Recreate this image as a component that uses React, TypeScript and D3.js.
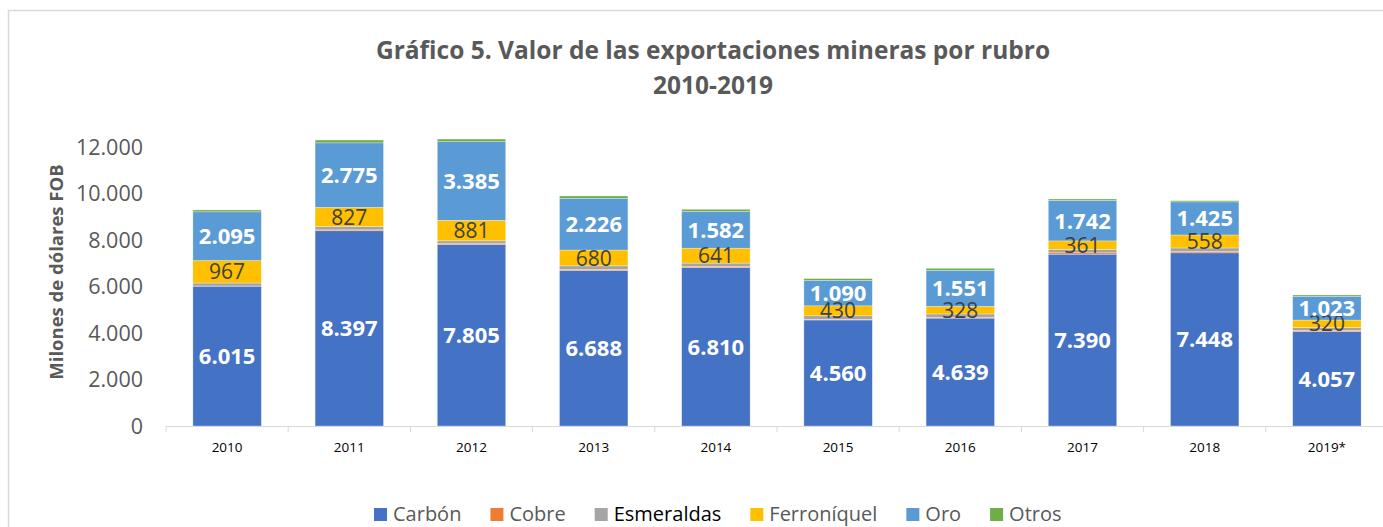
import React, { useEffect, useRef } from 'react'
import * as d3 from 'd3'

// values in millones de dólares FOB
const years = ['2010', '2011', '2012', '2013', '2014', '2015', '2016', '2017', '2018', '2019*']
const carbon = [6015, 8397, 7805, 6688, 6810, 4560, 4639, 7390, 7448, 4057]
const cobre = [5, 40, 40, 50, 47, 30, 40, 60, 60, 50]
const esmeraldas = [130, 140, 120, 150, 150, 150, 140, 150, 150, 130]
const ferroniquel = [967, 827, 881, 680, 641, 430, 328, 361, 558, 320]
const oro = [2095, 2775, 3385, 2226, 1582, 1090, 1551, 1742, 1425, 1023]
const otros = [80, 120, 110, 100, 90, 80, 85, 60, 50, 55]

const seriesNames = ['Carbón', 'Cobre', 'Esmeraldas', 'Ferroníquel', 'Oro', 'Otros']
const seriesColors = ['#4472C4', '#ED7D31', '#A5A5A5', '#FFC000', '#5B9BD5', '#70AD47']
const yTicks = [0, 2000, 4000, 6000, 8000, 10000, 12000]

const W = 1383, H = 527
const FONT = '"Open Sans", "Liberation Sans", sans-serif'

const fmt = (v: number) => d3.format(',')(v).replace(/,/g, '.')

export default function App() {
  const ref = useRef<SVGSVGElement>(null)

  useEffect(() => {
    const svg = d3.select(ref.current)
    svg.selectAll('*').remove()

    const all = [carbon, cobre, esmeraldas, ferroniquel, oro, otros]
    const rows = years.map((y, i) => {
      const r: any = { year: y }
      seriesNames.forEach((s, k) => { r[s] = all[k][i] })
      return r
    })
    const stacked = d3.stack().keys(seriesNames)(rows)

    const x = d3.scaleBand().domain(years).range([166, 1388]).paddingInner(0.44).paddingOuter(0.22)
    const y = d3.scaleLinear().domain([0, 12000]).range([426, 147])

    // chart border
    svg.append('rect')
      .attr('x', 8.5).attr('y', 10.5)
      .attr('width', W).attr('height', H)
      .attr('fill', 'none').attr('stroke', '#D9D9D9').attr('stroke-width', 1.5)

    // title
    const title = svg.append('text')
      .attr('text-anchor', 'middle')
      .attr('font-family', FONT).attr('font-weight', 'bold')
      .attr('font-size', 24.5).attr('fill', '#595959')
    title.append('tspan').attr('x', 713).attr('y', 59).text('Gráfico 5. Valor de las exportaciones mineras por rubro')
    title.append('tspan').attr('x', 713).attr('y', 94).text('2010-2019')

    // y axis labels
    svg.append('g').selectAll('text').data(yTicks).enter().append('text')
      .attr('x', 143).attr('y', d => y(d)).attr('dy', '0.35em')
      .attr('text-anchor', 'end')
      .attr('font-family', FONT).attr('font-size', 21.5).attr('fill', '#595959')
      .text(d => fmt(d))

    svg.append('text')
      .attr('transform', 'translate(63,' + 272 + ') rotate(-90)')
      .attr('text-anchor', 'middle')
      .attr('font-family', FONT).attr('font-weight', 'bold')
      .attr('font-size', 18.5).attr('fill', '#595959')
      .text('Milones de dólares FOB')

    // bars
    const g = svg.append('g')
    stacked.forEach((layer, k) => {
      g.selectAll(null).data(layer).enter().append('rect')
        .attr('x', (d: any) => x(d.data.year)!)
        .attr('width', x.bandwidth())
        .attr('y', d => y(d[1]))
        .attr('height', d => Math.max(0, y(d[0]) - y(d[1])))
        .attr('fill', seriesColors[k])
        .attr('stroke', '#ffffff').attr('stroke-opacity', 0.5).attr('stroke-width', 0.6)
    })

    // data labels
    const labelled = [
      { key: 'Carbón', color: '#ffffff', weight: 'bold', size: 22 },
      { key: 'Ferroníquel', color: '#404040', weight: 'normal', size: 21 },
      { key: 'Oro', color: '#ffffff', weight: 'bold', size: 22 },
    ]
    labelled.forEach(l => {
      const layer = stacked[seriesNames.indexOf(l.key)]
      g.selectAll(null).data(layer).enter().append('text')
        .attr('x', (d: any) => x(d.data.year)! + x.bandwidth() / 2)
        .attr('y', d => (y(d[0]) + y(d[1])) / 2)
        .attr('dy', '0.36em')
        .attr('text-anchor', 'middle')
        .attr('font-family', FONT).attr('font-size', l.size)
        .attr('font-weight', l.weight).attr('fill', l.color)
        .text((d: any) => fmt(d.data[l.key]))
    })

    // x axis
    const ax = svg.append('g')
    ax.append('line').attr('x1', 166).attr('x2', 1388).attr('y1', 426.5).attr('y2', 426.5)
      .attr('stroke', '#D9D9D9').attr('stroke-width', 1)
    const edges = years.map(d => x(d)! - x.step() * x.paddingInner() / 2)
    ax.selectAll(null).data(edges).enter().append('line')
      .attr('x1', d => d).attr('x2', d => d).attr('y1', 426).attr('y2', 432)
      .attr('stroke', '#D9D9D9')
    ax.selectAll(null).data(years).enter().append('text')
      .attr('x', d => x(d)! + x.bandwidth() / 2).attr('y', 452)
      .attr('text-anchor', 'middle')
      .attr('font-family', FONT).attr('font-size', 13.5).attr('fill', '#000000')
      .text(d => d)

    // legend
    const leg = svg.append('g').attr('transform', 'translate(374,514)')
    let off = 0
    seriesNames.forEach((s, k) => {
      const it = leg.append('g').attr('transform', 'translate(' + off + ',0)')
      it.append('rect').attr('x', 0).attr('y', -6).attr('width', 13).attr('height', 13)
        .attr('fill', seriesColors[k])
      const t = it.append('text').attr('x', 19).attr('y', 0).attr('dy', '0.35em')
        .attr('font-family', FONT).attr('font-size', 20)
        .attr('fill', s === 'Esmeraldas' ? '#000000' : '#595959')
        .text(s)
      const w = (t.node() as SVGTextElement).getComputedTextLength()
      off += 19 + w + 29
    })
  }, [])

  return (
    <svg ref={ref} width={W} height={H}
      style={{ position: 'absolute', left: 0, top: 0, background: '#ffffff' }} />
  )
}
